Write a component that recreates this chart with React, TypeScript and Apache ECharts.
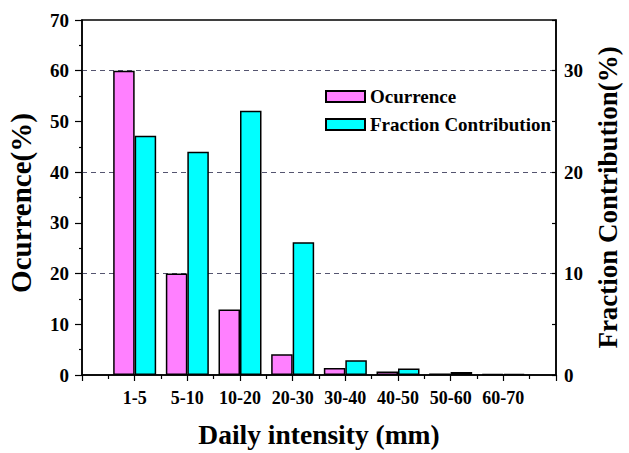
import React, { useEffect, useRef } from "react";
import * as echarts from "echarts";

const categories = ["1-5", "5-10", "10-20", "20-30", "30-40", "40-50", "50-60", "60-70"];
const occurrence = [60, 20, 12.9, 4.1, 1.4, 0.7, 0.3, 0.15];
const fraction = [23.6, 22, 26.05, 13.1, 1.45, 0.65, 0.3, 0.12];
const leftTicks = { min: 0, max: 70, interval: 10 };
const rightTicks = { min: 0, max: 35, interval: 10 };
const leftAxisName = "Ocurrence(%)";

const FONT = "'Liberation Serif', 'Times New Roman', serif";

export default function App() {
  const ref = useRef<HTMLDivElement>(null);
  useEffect(() => {
    if (!ref.current) return;
    const chart = echarts.init(ref.current, null, { renderer: "svg" });
    chart.setOption({
      animation: false,
      backgroundColor: "#ffffff",
      textStyle: { fontFamily: FONT },
      grid: {
        left: 82,
        right: 65,
        top: 20,
        bottom: 75,
        show: true,
        borderColor: "#000",
        borderWidth: 1.5,
        backgroundColor: "transparent",
      },
      graphic: [
        {
          type: "text",
          x: 21,
          y: 203,
          rotation: Math.PI / 2,
          style: {
            text: leftAxisName,
            fontFamily: FONT,
            fontWeight: "bold",
            fontSize: 29,
            fill: "#000",
            align: "center",
            verticalAlign: "middle",
          },
        },
      ],
      legend: {
        orient: "vertical",
        left: 325,
        top: 87,
        padding: 0,
        icon: "rect",
        itemWidth: 39,
        itemHeight: 11,
        itemGap: 9,
        textStyle: { fontFamily: FONT, fontWeight: "bold", fontSize: 19, color: "#000" },
        data: ["Ocurrence", "Fraction Contribution"],
      },
      xAxis: {
        type: "value",
        min: 0,
        max: categories.length + 1,
        interval: 1,
        name: "Daily intensity (mm)",
        nameLocation: "middle",
        nameGap: 45,
        nameTextStyle: { fontFamily: FONT, fontWeight: "bold", fontSize: 27.5, color: "#000" },
        axisLine: { lineStyle: { color: "#000", width: 1.5 } },
        axisTick: { show: true, length: 6, lineStyle: { color: "#000", width: 1.2 } },
        minorTick: { show: true, splitNumber: 2, length: 4, lineStyle: { color: "#000", width: 1.2 } },
        splitLine: { show: false },
        axisLabel: {
          margin: 14,
          fontFamily: FONT,
          fontWeight: "bold",
          fontSize: 18,
          color: "#000",
          formatter: (v: number) => categories[Math.round(v) - 1] ?? "",
        },
      },
      yAxis: [
        {
          type: "value",
          position: "left",
          ...leftTicks,
          axisLine: { show: true, lineStyle: { color: "#000", width: 1.5 } },
          axisTick: { show: true, length: 7, lineStyle: { color: "#000", width: 1.2 } },
          minorTick: { show: true, splitNumber: 2, length: 3, lineStyle: { color: "#000", width: 1.2 } },
          splitLine: { show: false },
          axisLabel: { margin: 13, fontFamily: FONT, fontWeight: "bold", fontSize: 19, color: "#000" },
        },
        {
          type: "value",
          position: "right",
          ...rightTicks,
          name: "Fraction Contribution(%)",
          nameLocation: "middle",
          nameRotate: 90,
          nameGap: 38,
          nameTextStyle: { fontFamily: FONT, fontWeight: "bold", fontSize: 27, color: "#000" },
          axisLine: { show: true, lineStyle: { color: "#000", width: 1.5 } },
          axisTick: { show: true, inside: true, length: 4, lineStyle: { color: "#000", width: 1.2 } },
          minorTick: { show: true, splitNumber: 2, length: 4, lineStyle: { color: "#000", width: 1.2 } },
          splitLine: {
            show: true,
            showMinLine: false,
            showMaxLine: false,
            lineStyle: { color: "#555570", type: [5, 4], width: 1.2 },
          },
          axisLabel: {
            margin: 8,
            fontFamily: FONT,
            fontWeight: "bold",
            fontSize: 19,
            color: "#000",
            showMaxLabel: false,
            formatter: (v: number) => (v > 30 ? "" : String(v)),
          },
        },
      ],
      series: [
        {
          name: "Ocurrence",
          type: "bar",
          yAxisIndex: 0,
          barWidth: 21.5,
          barGap: "0%",
          itemStyle: { color: "#ff80ff", borderColor: "#000", borderWidth: 1.5 },
          data: occurrence.map((v, i) => [i + 1, v]),
        },
        {
          name: "Fraction Contribution",
          type: "bar",
          yAxisIndex: 1,
          barWidth: 21.5,
          barGap: "0%",
          itemStyle: { color: "#00ffff", borderColor: "#000", borderWidth: 1.5 },
          data: fraction.map((v, i) => [i + 1, v]),
        },
      ],
    });
    return () => chart.dispose();
  }, []);
  return <div ref={ref} style={{ width: 629, height: 453, position: "absolute", left: 0, top: 0 }} />;
}
